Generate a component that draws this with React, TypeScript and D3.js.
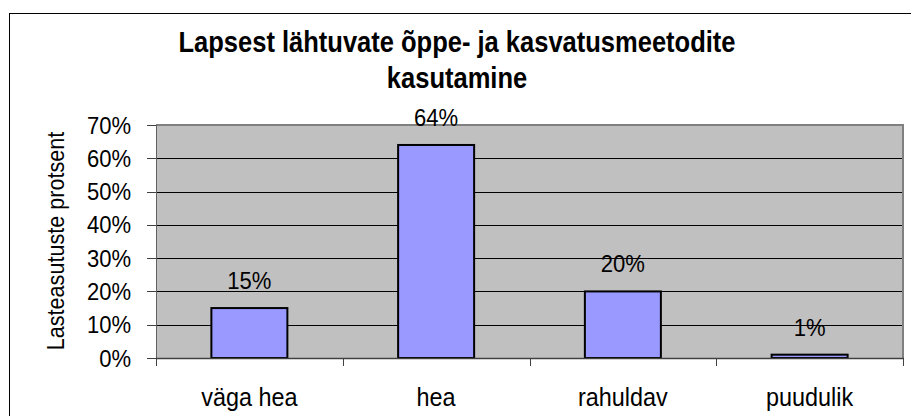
import React from 'react';
import * as d3 from 'd3';

const categories = ['väga hea', 'hea', 'rahuldav', 'puudulik'];
const values = [15, 64, 20, 1];
const yTicks = [0, 10, 20, 30, 40, 50, 60, 70];
const titleLines = ['Lapsest lähtuvate õppe- ja kasvatusmeetodite', 'kasutamine'];
const yTitle = 'Lasteasutuste protsent';

const W = 911;
const H = 416;
const font = '"Liberation Sans", Arial, sans-serif';
// the original uses a condensed face: taller glyphs at roughly the same width
const SX = 0.9;

const App: React.FC = () => {
  const plot = { left: 156, right: 903, top: 125, bottom: 358 };

  const x = d3.scaleBand<string>()
    .domain(categories)
    .range([plot.left, plot.right])
    .paddingInner(0.593)
    .paddingOuter(0.2965);

  const y = d3.scaleLinear()
    .domain([0, 70])
    .range([plot.bottom, plot.top]);

  const band = (plot.right - plot.left) / categories.length;
  const px = (v: number) => Math.round(v) + 0.5;
  const at = (tx: number, ty: number, sx = SX) => `translate(${tx}, ${ty}) scale(${sx}, 1)`;

  return (
    <div style={{ position: 'absolute', left: 0, top: 0 }}>
      <svg width={W} height={H} style={{ display: 'block', background: '#fff' }} fontFamily={font}>
        {/* outer chart border, runs off the right and bottom edge */}
        <rect x={9.5} y={13.5} width={W + 10} height={H + 10} fill="#fff" stroke="#000" strokeWidth={1} />

        {/* title */}
        {titleLines.map((t, i) => (
          <text key={t} transform={at(457, 52 + i * 36, 0.88)} textAnchor="middle" fontSize={29} fontWeight="bold" fill="#000">
            {t}
          </text>
        ))}

        {/* plot area */}
        <rect x={plot.left} y={plot.top} width={plot.right - plot.left} height={plot.bottom - plot.top} fill="#c0c0c0" />

        {/* gridlines */}
        {yTicks.filter(t => t > 0 && t < 70).map(t => (
          <line key={t} x1={plot.left} x2={plot.right} y1={px(y(t))} y2={px(y(t))} stroke="#000" strokeWidth={1} />
        ))}

        {/* plot border top/right */}
        <line x1={plot.left} x2={plot.right + 1} y1={plot.top} y2={plot.top} stroke="#808080" strokeWidth={2} />
        <line x1={plot.right} x2={plot.right} y1={plot.top} y2={plot.bottom} stroke="#808080" strokeWidth={2} />

        {/* bars */}
        {categories.map((c, i) => (
          <rect
            key={c}
            x={x(c)}
            y={y(values[i])}
            width={x.bandwidth()}
            height={y(0) - y(values[i])}
            fill="#9999ff"
            stroke="#000"
            strokeWidth={2}
          />
        ))}

        {/* data labels */}
        {categories.map((c, i) => (
          <text key={c} transform={at((x(c) ?? 0) + x.bandwidth() / 2, y(values[i]) - 19)} textAnchor="middle" fontSize={24.5} fill="#000">
            {values[i]}%
          </text>
        ))}

        {/* y axis */}
        <line x1={plot.left + 0.5} x2={plot.left + 0.5} y1={plot.top} y2={plot.bottom + 8} stroke="#606060" strokeWidth={1} />
        {yTicks.map(t => (
          <g key={t}>
            <line x1={plot.left - 9} x2={plot.left} y1={px(y(t))} y2={px(y(t))} stroke="#404040" strokeWidth={1} />
            <text transform={at(131, y(t) + 8.5)} textAnchor="end" fontSize={24.5} fill="#000">
              {t}%
            </text>
          </g>
        ))}

        {/* x axis */}
        <line x1={plot.left} x2={plot.right + 1} y1={plot.bottom + 0.5} y2={plot.bottom + 0.5} stroke="#404040" strokeWidth={1.5} />
        {d3.range(categories.length + 1).map(i => (
          <line key={i} x1={px(plot.left + i * band)} x2={px(plot.left + i * band)} y1={plot.bottom} y2={plot.bottom + 8} stroke="#404040" strokeWidth={1} />
        ))}
        {categories.map(c => (
          <text key={c} transform={at((x(c) ?? 0) + x.bandwidth() / 2, 406)} textAnchor="middle" fontSize={26} fill="#000">
            {c}
          </text>
        ))}

        {/* y axis title */}
        <text transform={`translate(64, 241) rotate(-90) scale(${SX}, 1)`} textAnchor="middle" fontSize={24} fill="#000">
          {yTitle}
        </text>
      </svg>
    </div>
  );
};

export default App;
